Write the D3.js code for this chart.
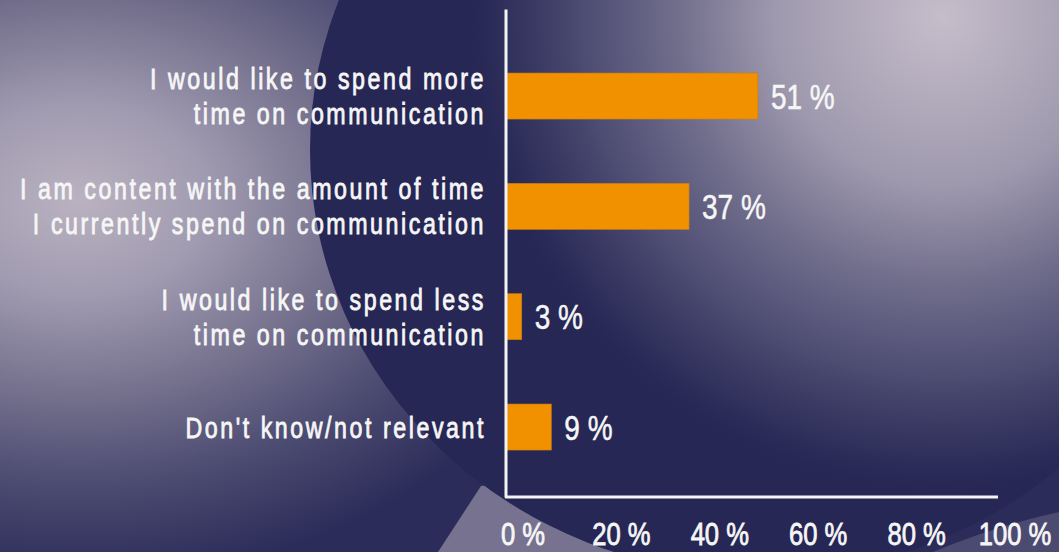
<!DOCTYPE html>
<html lang="en">
<head>
<meta charset="utf-8">
<title>Time spent on communication</title>
<script src="https://d3js.org/d3.v7.min.js"></script>
<style>
body { margin:0; background:#272856; overflow:hidden; }
svg { display:block; }
text { font-family: "Liberation Sans", Arial, sans-serif; fill:#f6f6f6; }
.cat { font-size:29px; letter-spacing:3.2px; stroke:#f6f6f6; stroke-width:0.8px; }
.val { font-size:35px; stroke:#f6f6f6; stroke-width:0.5px; }
.tick text { font-size:32px; fill:#f6f6f6; stroke:#f6f6f6; stroke-width:0.8px; }
</style>
</head>
<body>
<svg id="chart"></svg>
<script>
var W = 1059, H = 552;
var sx = 0.8; // squeeze the glyphs like a condensed face

// data
var categories = [
    ["I would like to spend more", "time on communication"],
    ["I am content with the amount of time", "I currently spend on communication"],
    ["I would like to spend less", "time on communication"],
    ["Don't know/not relevant"]
];
var values = [51, 37, 3, 9];
var tickValues = [0, 20, 40, 60, 80, 100];

var svg = d3.select("#chart").attr("width", W).attr("height", H);
var defs = svg.append("defs");

function radial(id, cx, cy, r, ky, stops){
    var g = defs.append("radialGradient").attr("id", id)
        .attr("gradientUnits", "userSpaceOnUse")
        .attr("cx", cx).attr("cy", cy).attr("r", r)
        .attr("gradientTransform", "translate(" + cx + "," + cy + ") scale(1," + ky + ") translate(" + (-cx) + "," + (-cy) + ")");
    stops.forEach(function(s){
        g.append("stop").attr("offset", s[0]).attr("stop-color", s[1])
            .attr("stop-opacity", s[2] == undefined ? 1 : s[2]);
    });
}

radial("glowL", 78, 200, 520, 0.73, [
    [0, "#bab2c0"], [0.25, "#a19bb1"], [0.5, "#77738f"], [0.75, "#4c4b71"], [1, "#2b2c59"]
]);
radial("glowR", 943, 17, 480, 1, [
    [0, "#c5bdca"], [0.35, "#9f99ae"], [0.55, "#726f8d"], [0.75, "#4d4c72"],
    [0.9, "#353660", 0.8], [1, "#272856", 0]
]);

// background
var bg = svg.append("g");
bg.append("rect").attr("width", W).attr("height", H).attr("fill", "#2b2c59");
bg.append("rect").attr("width", W).attr("height", H).attr("fill", "url(#glowL)");
bg.append("path").attr("d", "M481,486 L438,552 L660,552 L600,470 Z").attr("fill", "#77728f");
bg.append("ellipse").attr("cx", 760).attr("cy", 150).attr("rx", 450).attr("ry", 425)
    .attr("fill", "#262754");
bg.append("path").attr("d", "M933,552 Q995,526 1059,512 L1059,552 Z").attr("fill", "#4b4a70");
bg.append("rect").attr("width", W).attr("height", H).attr("fill", "url(#glowR)");

// scales
var x = d3.scaleLinear().domain([0, 100]).range([507, 999]);
var y = d3.scaleBand().domain(d3.range(values.length)).range([9, 497])
    .paddingInner(0.583).paddingOuter(0.503).align(0.577);

// bars
svg.append("g").selectAll("rect").data(values).enter().append("rect")
    .attr("x", x(0))
    .attr("y", function(d, i){ return y(i); })
    .attr("width", function(d){ return x(d) - x(0); })
    .attr("height", y.bandwidth())
    .attr("fill", "#f29100")
    .attr("stroke", "#c97c12").attr("stroke-width", 0.6);

// value labels
svg.append("g").selectAll("text").data(values).enter().append("text")
    .attr("class", "val")
    .attr("transform", function(d, i){
        return "translate(" + (x(d) + 13) + "," + (y(i) + y.bandwidth() / 2 + 12.5) + ") scale(" + sx + ",1)";
    })
    .text(function(d){ return d + " %"; });

// category labels
var lineH = 35, capH = 21;
var cat = svg.append("g").selectAll("text").data(categories).enter().append("text")
    .attr("class", "cat")
    .attr("text-anchor", "end")
    .attr("transform", function(d, i){
        var c = y(i) + y.bandwidth() / 2;
        var top = c + capH / 2 - (d.length - 1) * lineH / 2;
        return "translate(486," + top + ") scale(" + sx + ",1)";
    });
cat.selectAll("tspan").data(function(d){ return d; }).enter().append("tspan")
    .attr("x", 0)
    .attr("y", function(d, j){ return j * lineH; })
    .text(function(d){ return d; });

// axes
var xAxis = svg.append("g").attr("transform", "translate(0,497)")
    .call(d3.axisBottom(x).tickValues(tickValues).tickSize(0).tickSizeOuter(0)
        .tickFormat(function(d){ return d + " %"; }));
xAxis.select(".domain").attr("stroke", "#f4f4f4").attr("stroke-width", 3)
    .attr("d", "M505,0H998");
xAxis.selectAll(".tick text").attr("y", 0).attr("dy", 0).attr("x", 15.5 / sx)
    .attr("font-family", null).attr("font-size", null)
    .attr("transform", "translate(0,48) scale(" + sx + ",1)");

var yAxis = svg.append("g").attr("transform", "translate(505.5,0)")
    .call(d3.axisLeft(y).tickSize(0).tickSizeOuter(0).tickFormat(""));
yAxis.select(".domain").attr("stroke", "#f4f4f4").attr("stroke-width", 3);
yAxis.selectAll(".tick").remove();
</script>
</body>
</html>
